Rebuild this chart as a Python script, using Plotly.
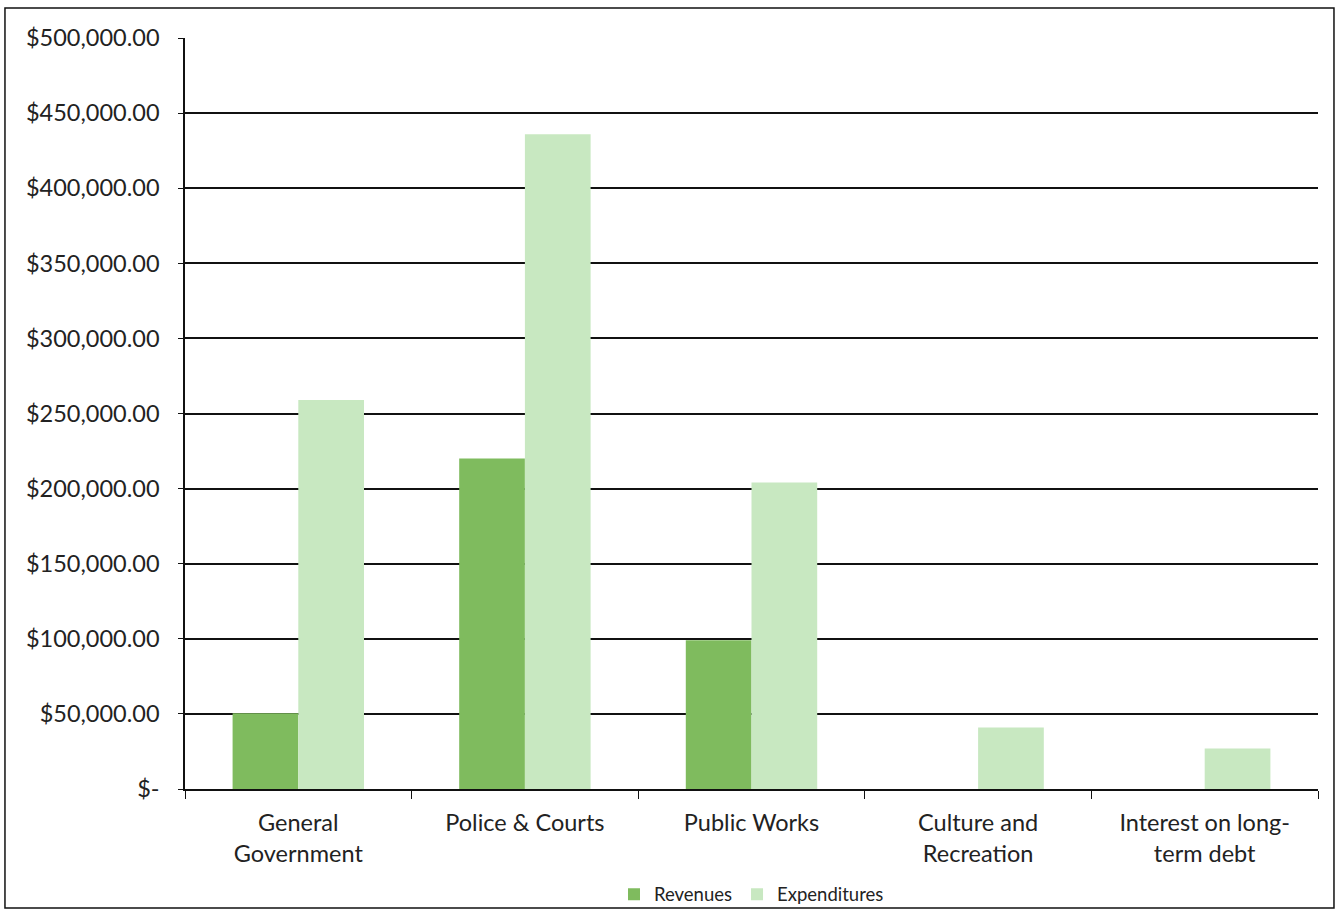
import plotly.graph_objects as go

categories = ["General<br>Government", "Police & Courts", "Public Works",
              "Culture and<br>Recreation", "Interest on long-<br>term debt"]
revenues = [50500, 220000, 99000, None, None]
expenditures = [259000, 436000, 204000, 41000, 27000]

tick_vals = [0, 50000, 100000, 150000, 200000, 250000, 300000, 350000, 400000, 450000, 500000]
tick_text = ["$-", "$50,000.00", "$100,000.00", "$150,000.00", "$200,000.00", "$250,000.00",
             "$300,000.00", "$350,000.00", "$400,000.00", "$450,000.00", "$500,000.00"]

fig = go.Figure()
fig.add_trace(go.Bar(name="Revenues", x=categories, y=revenues,
                     marker=dict(color="#7fbb5e", line=dict(width=0))))
fig.add_trace(go.Bar(name="Expenditures", x=categories, y=expenditures,
                     marker=dict(color="#c8e8c1", line=dict(width=0))))

fig.update_layout(
    width=1342, height=913,
    margin=dict(l=185, r=24, t=38, b=124, autoexpand=False),
    paper_bgcolor="white", plot_bgcolor="white",
    font=dict(family="Lato, Open Sans, sans-serif", color="#222222", size=23.5),
    barmode="group", bargap=0.42, bargroupgap=0,
    showlegend=True,
    legend=dict(orientation="h", x=0.5, xanchor="center",
                yref="container", y=0.02, yanchor="middle",
                font=dict(size=18.5), itemwidth=30, bgcolor="rgba(0,0,0,0)"),
    xaxis=dict(showline=True, linecolor="#111111", linewidth=1.5,
               ticks="outside", tickson="boundaries", ticklen=8, tickcolor="#111111",
               tickfont=dict(size=23.5), ticklabelstandoff=12, showgrid=False,
               automargin=False),
    yaxis=dict(range=[0, 500000], tickvals=tick_vals, ticktext=tick_text,
               showline=True, linecolor="#111111", linewidth=1.5,
               ticks="outside", ticklen=5, tickcolor="#111111",
               showgrid=True, gridcolor="#111111", gridwidth=1.5,
               zeroline=False, tickfont=dict(size=23.5), ticklabelstandoff=14,
               automargin=False),
    shapes=[dict(type="rect", xref="paper", yref="paper",
                 x0=-0.1589, x1=1.0141, y0=-0.1585, y1=1.04,
                 line=dict(color="#111111", width=1.5))],
)

fig.write_html("out.html", config={"displayModeBar": False},
               post_script="document.body.style.margin='0';document.body.style.overflow='hidden';")
